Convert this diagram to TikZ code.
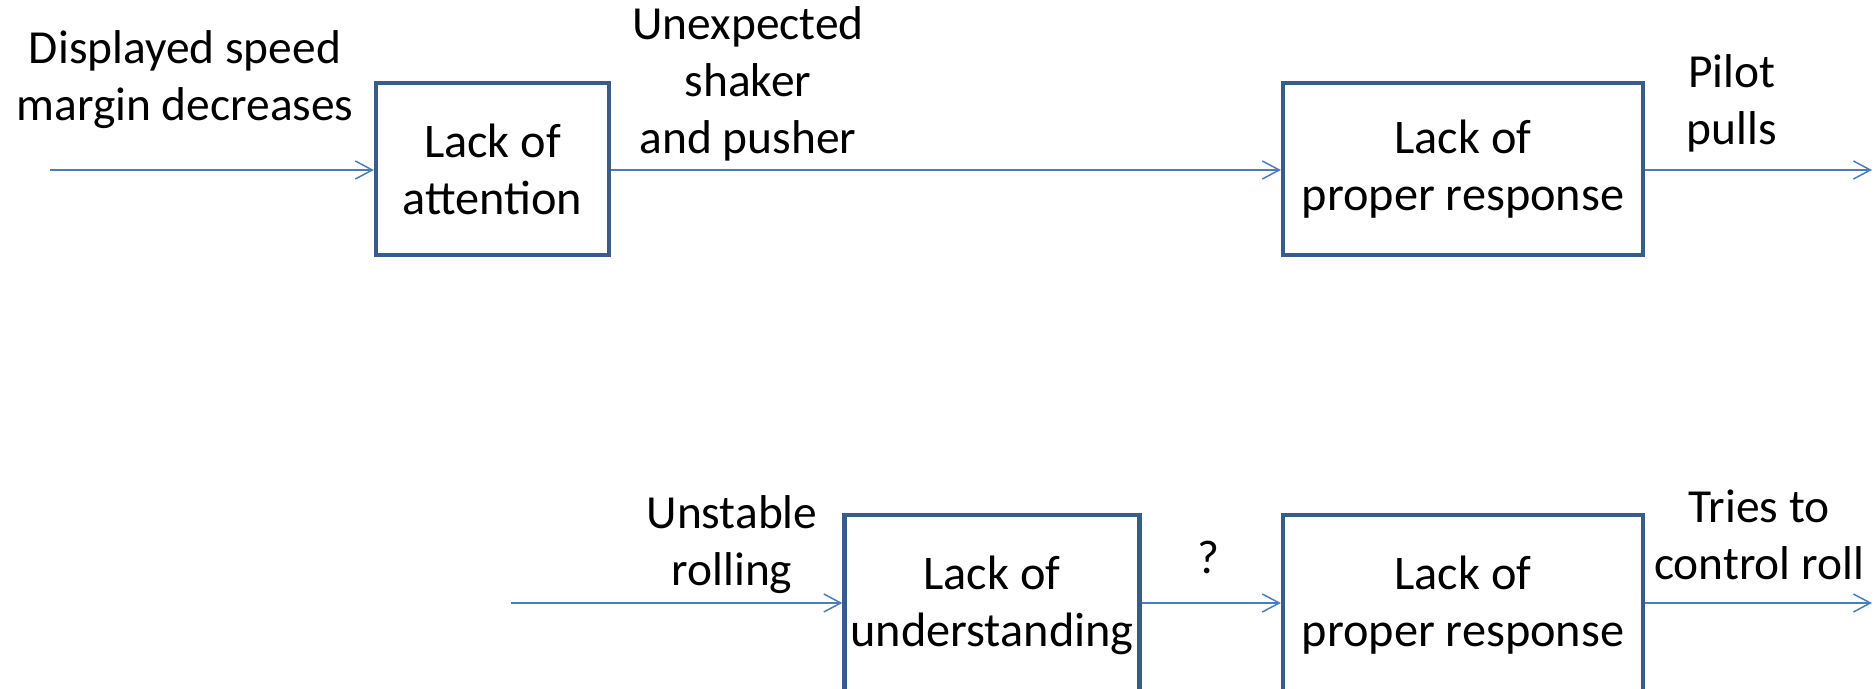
\documentclass[tikz,border=0pt]{standalone}
\usepackage{fontspec}
\setmainfont{Carlito}
\usetikzlibrary{arrows.meta,positioning}
\definecolor{boxblue}{RGB}{56, 93, 138}
\definecolor{lineblue}{RGB}{74, 126, 187}
\tikzset{
 blockbox/.style={
 rectangle,
 draw=boxblue,
 line width=2.4pt,
 fill=white,
 align=center,
 minimum height=3.45cm,
 font=\fontsize{27.5}{32.5}\selectfont
 },
 signal/.style={
 align=center,
 inner sep=0pt,
 font=\fontsize{27}{32.5}\selectfont
 },
 flowarrow/.style={-{Straight Barb[length=3.4mm, width=3.6mm]}, line width=0.85pt, draw=lineblue}
}
\begin{document}
\begin{tikzpicture}[x=0.02cm, y=-0.02cm]
 \useasboundingbox (0,0) rectangle (1876,689);

 % upper chain
 \node[blockbox, minimum width=4.66cm] (attention) at (492.5,169) {Lack of\\attention};
 \node[blockbox, minimum width=7.2cm] (respA) at (1463,169) {Lack of\\proper response};
 \coordinate (inA) at (50,170);
 \coordinate (outA) at (1872,170);

 % lower chain
 \node[blockbox, minimum width=5.82cm, minimum height=3.6cm] (understand) at (992,605) {Lack of\\understanding};
 \node[blockbox, minimum width=7.2cm, minimum height=3.6cm] (respB) at (1463,605) {Lack of\\proper response};
 \coordinate (inB) at (511,603);
 \coordinate (outB) at (1872,603);

 \node[signal] (speed) at (185,80) {Displayed speed\\margin decreases};
 \node[signal] (shaker) at (748,84) {Unexpected\\shaker\\and pusher};
 \node[signal] (pulls) at (1732,103) {Pilot\\pulls};
 \node[signal] (rolling) at (732,545) {Unstable\\rolling};
 \node[signal] (unknown) at (1208,557) {?};
 \node[signal] (tries) at (1759,535) {Tries to\\control roll};

 \draw[flowarrow] (inA) -- (attention.west |- inA);
 \draw[flowarrow] (attention.east |- inA) -- (respA.west |- inA);
 \draw[flowarrow] (respA.east |- outA) -- (outA);
 \draw[flowarrow] (inB) -- (understand.west |- inB);
 \draw[flowarrow] (understand.east |- inB) -- (respB.west |- inB);
 \draw[flowarrow] (respB.east |- outB) -- (outB);
\end{tikzpicture}
\end{document}
